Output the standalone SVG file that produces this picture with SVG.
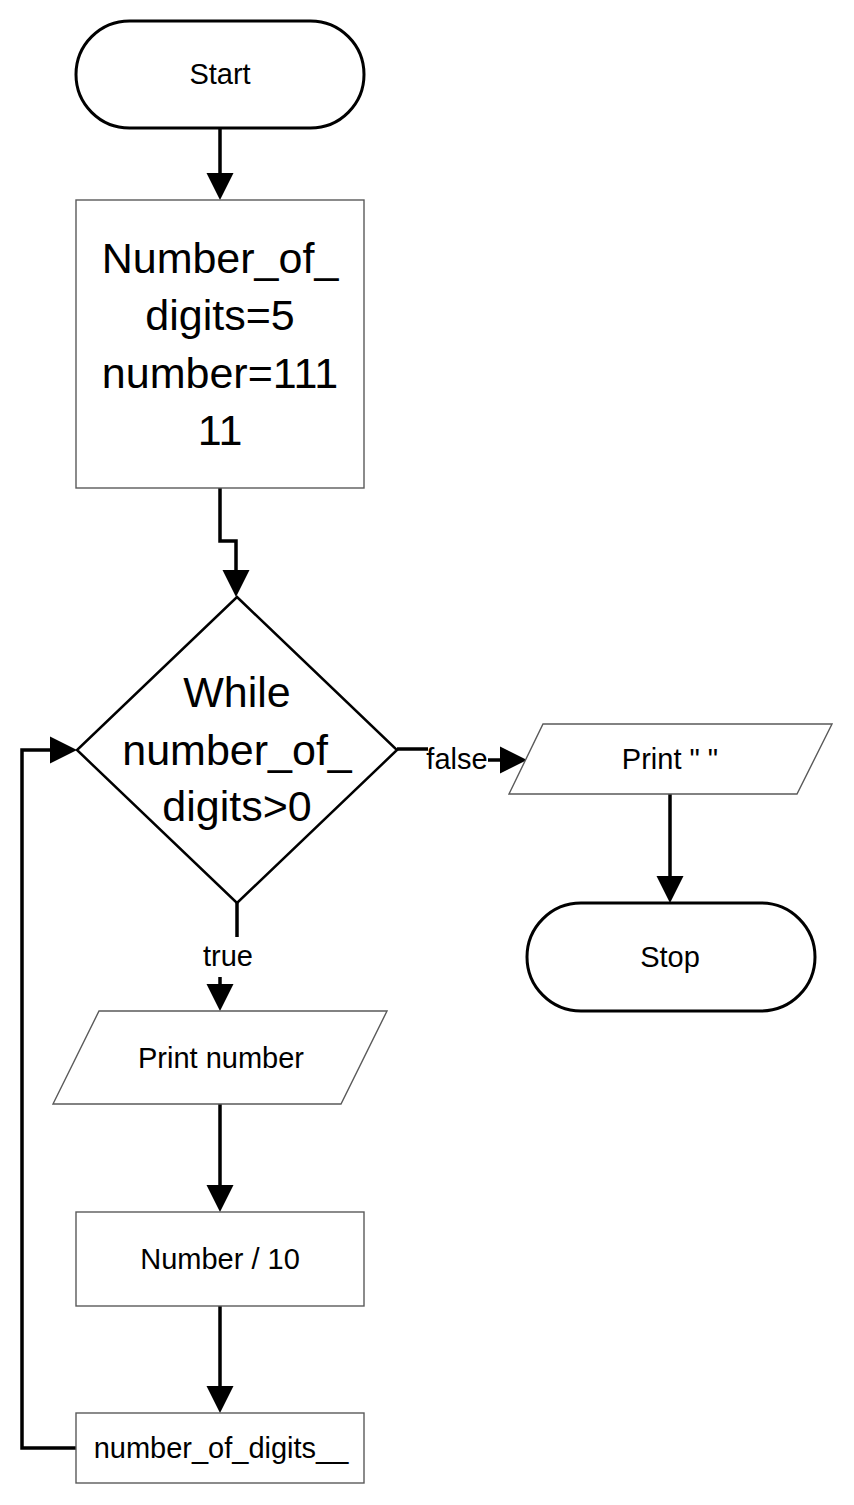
<svg xmlns="http://www.w3.org/2000/svg" width="854" height="1505" viewBox="0 0 854 1505">
<style>
text{font-family:"Liberation Sans",Arial,sans-serif;fill:#000;text-anchor:middle}
.s{font-size:29px}
.b{font-size:43px}
.term{fill:#fff;stroke:#000;stroke-width:3}
.box{fill:#fff;stroke:#5a5a5a;stroke-width:1.4}
.dia{fill:#fff;stroke:#000;stroke-width:2.5}
.con{fill:none;stroke:#000;stroke-width:3.5;marker-end:url(#ah)}
.nc{fill:none;stroke:#000;stroke-width:3.5}
</style>
<defs>
<marker id="ah" markerUnits="userSpaceOnUse" markerWidth="28" markerHeight="28" refX="0" refY="13.5" orient="auto" overflow="visible">
<path d="M0,0 L27,13.5 L0,27 z" fill="#000"/>
</marker>
</defs>
<rect width="854" height="1505" fill="#fff"/>
<g id="connectors">
<path class="con" d="M220,128 V173"/>
<path class="con" d="M220,488 V541 H236 V570"/>
<path class="nc" d="M397,749 H428"/>
<path class="con" d="M488,760 H500"/>
<path class="con" d="M670,794 V876"/>
<path class="nc" d="M237,903 V937"/>
<path class="con" d="M220,977 V984"/>
<path class="con" d="M220,1104 V1185"/>
<path class="con" d="M220,1306 V1386"/>
<path class="con" d="M76,1448 H22 V750 H50"/>
<text class="s" x="457" y="769">false</text>
<text class="s" x="228" y="966">true</text>
</g>
<g id="start">
<rect class="term" x="76" y="21" width="288" height="107" rx="53.5"/>
<text class="s" x="220" y="84">Start</text>
</g>
<g id="init">
<rect class="box" x="76" y="200" width="288" height="288"/>
<text class="b" x="220" y="273">Number_of_</text>
<text class="b" x="220" y="330">digits=5</text>
<text class="b" x="220" y="388">number=111</text>
<text class="b" x="220" y="445">11</text>
</g>
<g id="while">
<polygon class="dia" points="237,597 397,750 237,903 77,750"/>
<text class="b" x="237" y="707">While</text>
<text class="b" x="237" y="765">number_of_</text>
<text class="b" x="237" y="821">digits&gt;0</text>
</g>
<g id="printspace">
<polygon class="box" points="543,724 832,724 797,794 509,794"/>
<text class="s" x="670" y="769">Print " "</text>
</g>
<g id="stop">
<rect class="term" x="527" y="903" width="288" height="108" rx="54"/>
<text class="s" x="670" y="967">Stop</text>
</g>
<g id="printnumber">
<polygon class="box" points="99,1011 387,1011 341,1104 53,1104"/>
<text class="s" x="221" y="1068">Print number</text>
</g>
<g id="divide">
<rect class="box" x="76" y="1212" width="288" height="94"/>
<text class="s" x="220" y="1269">Number / 10</text>
</g>
<g id="decrement">
<rect class="box" x="76" y="1413" width="288" height="70"/>
<text class="s" x="221" y="1458">number_of_digits__</text>
</g>
</svg>
